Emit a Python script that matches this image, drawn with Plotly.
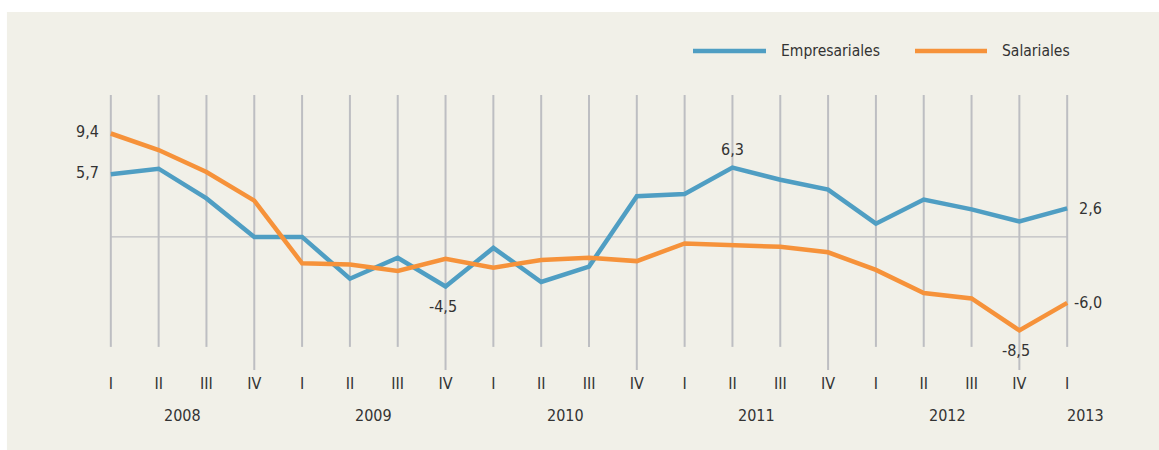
import plotly.graph_objects as go

quarters = ["I", "II", "III", "IV"] * 5 + ["I"]
years = ["2008", "2009", "2010", "2011", "2012", "2013"]
empresariales = [5.7, 6.2, 3.5, 0.0, 0.0, -3.8, -1.9, -4.5, -1.0, -4.1, -2.7, 3.7,
                 3.9, 6.3, 5.2, 4.3, 1.2, 3.4, 2.5, 1.4, 2.6]
salariales = [9.4, 7.9, 5.9, 3.3, -2.4, -2.5, -3.1, -2.0, -2.8, -2.1, -1.9, -2.2,
              -0.6, -0.8, -0.9, -1.4, -3.0, -5.1, -5.6, -8.5, -6.0]
series_names = ["Empresariales", "Salariales"]

BLUE = "#4f9ec3"
ORANGE = "#f6923a"
BEIGE = "#f1f0e8"
GRID = "#bdbec2"
TEXT = "#333333"
FONT = "Liberation Sans Narrow, DejaVu Sans Condensed, Arial Narrow, sans-serif"

x = list(range(len(quarters)))

fig = go.Figure()
fig.add_trace(go.Scatter(x=x, y=empresariales, mode="lines", name=series_names[0],
                         line=dict(color=BLUE, width=4.5), showlegend=False))
fig.add_trace(go.Scatter(x=x, y=salariales, mode="lines", name=series_names[1],
                         line=dict(color=ORANGE, width=4.5), showlegend=False))

shapes = []
# beige panel
shapes.append(dict(type="rect", xref="paper", yref="paper", x0=-0.0533, x1=1.05,
                   y0=-0.3, y1=1.302, fillcolor=BEIGE, line=dict(width=0), layer="below"))
# vertical quarter lines
for i, q in enumerate(quarters):
    y0 = -12.1 if q == "IV" else -10.0
    shapes.append(dict(type="line", xref="x", yref="y", x0=i, x1=i, y0=y0, y1=12.9,
                       line=dict(color=GRID, width=2), layer="below"))
# zero line
shapes.append(dict(type="line", xref="x", yref="y", x0=0, x1=len(x) - 1, y0=0, y1=0,
                   line=dict(color=GRID, width=1.2), layer="below"))

annotations = []
# year labels
year_pos = [1.5, 5.5, 9.5, 13.5, 17.5]
for yr, p in zip(years[:-1], year_pos):
    annotations.append(dict(x=p, y=0, xref="x", yref="paper", yshift=-45, yanchor="middle",
                            text=yr, showarrow=False,
                            font=dict(size=16, color=TEXT, family=FONT)))
annotations.append(dict(x=20, y=0, xref="x", yref="paper", yshift=-45, yanchor="middle",
                        xshift=-2, text=years[-1], xanchor="left", showarrow=False,
                        font=dict(size=16, color=TEXT, family=FONT)))

def fmt(v):
    return f"{v:.1f}".replace(".", ",")

lab = dict(showarrow=False, font=dict(size=16, color=TEXT, family=FONT))
annotations += [
    dict(x=0, y=salariales[0], xshift=-10, yshift=2, xanchor="right", text=fmt(salariales[0]), **lab),
    dict(x=0, y=empresariales[0], xshift=-10, yshift=2, xanchor="right", text=fmt(empresariales[0]), **lab),
    dict(x=13, y=empresariales[13], yshift=18, text=fmt(empresariales[13]), **lab),
    dict(x=7, y=empresariales[7], yshift=-20, xshift=-3, text=fmt(empresariales[7]), **lab),
    dict(x=20, y=empresariales[20], xshift=10, xanchor="left", text=fmt(empresariales[20]), **lab),
    dict(x=20, y=salariales[20], xshift=5, xanchor="left", text=fmt(salariales[20]), **lab),
    dict(x=19, y=salariales[19], yshift=-20, xshift=-3, text=fmt(salariales[19]), **lab),
]

# manual legend
leg = [(series_names[0], BLUE, 693, 766, 779), (series_names[1], ORANGE, 915, 987, 1000)]
W, L = 1159, 63
PW = W - 63 - 44
legfont = dict(size=15.5, color=TEXT, family=FONT)
for name, col, a, b, t in leg:
    shapes.append(dict(type="line", xref="paper", yref="paper",
                       x0=(a - L) / PW, x1=(b - L) / PW, y0=(370 - 51) / 275, y1=(370 - 51) / 275,
                       line=dict(color=col, width=4.5)))
    annotations.append(dict(xref="paper", yref="paper", x=(t - L) / PW, y=(370 - 51) / 275,
                            xanchor="left", yanchor="middle", text=name, showarrow=False,
                            font=legfont))

fig.update_layout(
    width=1159, height=450,
    margin=dict(l=63, r=44, t=95, b=80),
    paper_bgcolor="white",
    plot_bgcolor=BEIGE,
    shapes=shapes,
    annotations=annotations,
    showlegend=False,
    xaxis=dict(range=[-1, 21], tickvals=x, ticktext=quarters, showgrid=False,
               zeroline=False, showline=False, ticks="", ticklabelstandoff=2,
               tickfont=dict(size=16, color=TEXT, family=FONT), fixedrange=True),
    yaxis=dict(range=[-12.1, 12.9], showgrid=False, zeroline=False, showline=False,
               showticklabels=False, fixedrange=True),
)

fig.write_html("out.html", config={"displayModeBar": False},
               post_script="document.body.style.margin='0';")
